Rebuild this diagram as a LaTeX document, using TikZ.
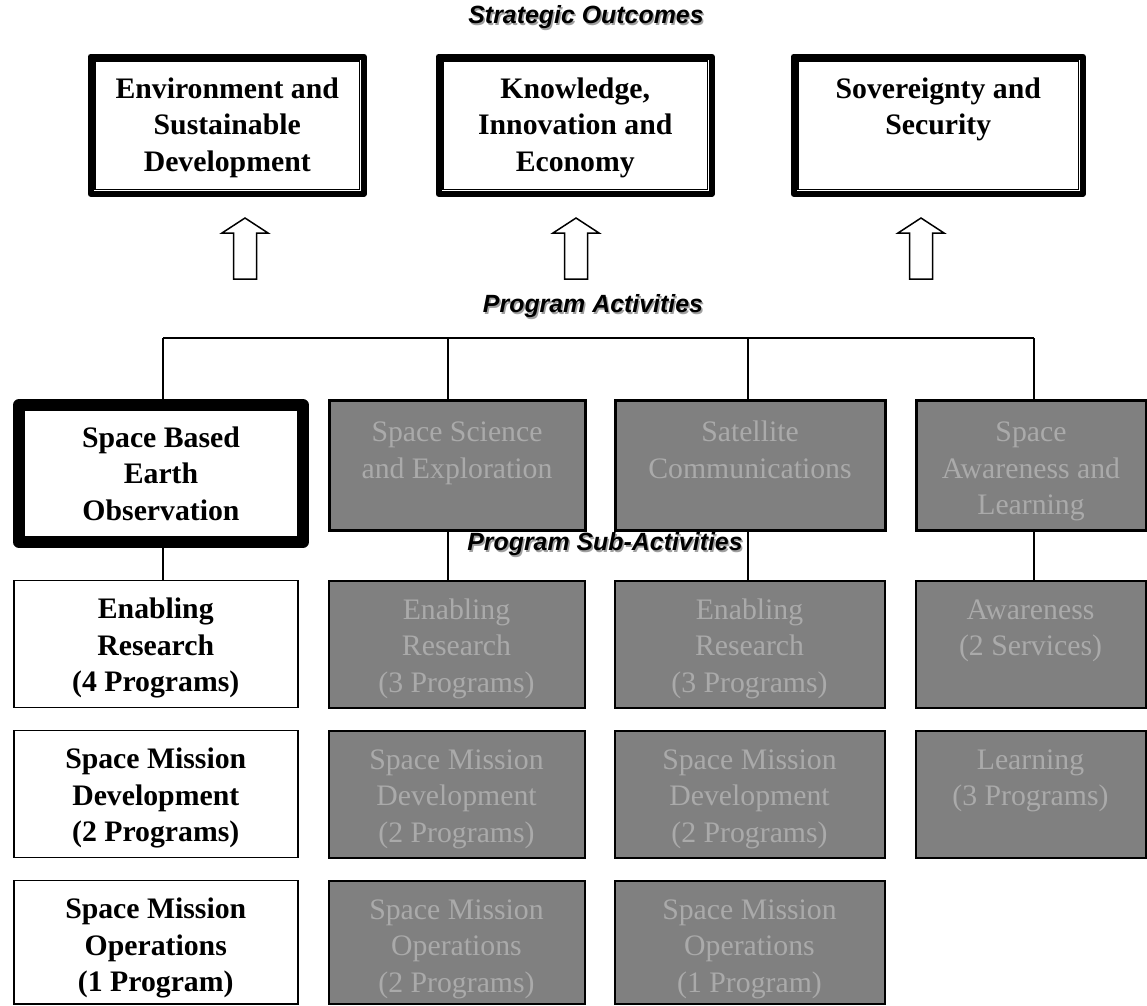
\documentclass[tikz,border=0pt]{standalone}
\usepackage{fontspec}
\setmainfont{Liberation Serif}
\newfontfamily\arialfont{Liberation Sans}
\usepackage{tikz}
\usetikzlibrary{calc}
\usepackage{xcolor}
\definecolor{boxgrey}{RGB}{128,128,128}
\definecolor{textgrey}{RGB}{170,170,170}
\definecolor{shadowgrey}{RGB}{160,160,160}
\newcommand{\boxfont}{\fontsize{29.75}{36.5}\selectfont}
\newcommand{\shadowed}[1]{\makebox[0pt][l]{\hspace{1.5pt}\raisebox{-1.5pt}{\textcolor{shadowgrey}{#1}}}#1}
\tikzstyle{heading}=[
  inner sep=0pt,font=\arialfont\bfseries\itshape\fontsize{24.9}{30}\selectfont
]
\tikzstyle{boxtext}=[
  anchor=north west,inner sep=0pt,align=flush center
]
\tikzstyle{outcome}=[
  boxtext,draw,line width=6.5pt,line join=round,text width=273pt,
  text height=41.5pt,text depth=95.5pt,font=\boxfont\bfseries
]
\tikzstyle{activity}=[
  boxtext,draw,line width=12pt,line join=round,text width=284pt,
  text height=42pt,text depth=95pt,font=\boxfont\bfseries
]
\tikzstyle{greyact}=[
  boxtext,draw,line width=3pt,fill=boxgrey,text=textgrey,
  text height=41.5pt,text depth=88.5pt,font=\boxfont
]
\tikzstyle{subact}=[
  boxtext,draw,line width=1.5pt,text width=284pt,
  text height=38.5pt,text depth=88.5pt,font=\boxfont\bfseries
]
\tikzstyle{greysub}=[
  boxtext,draw,line width=2pt,fill=boxgrey,text=textgrey,
  text height=38.5pt,text depth=88.5pt,font=\boxfont
]
\tikzstyle{wire}=[line width=2pt]
\tikzstyle{blockarrow}=[line width=1.5pt,fill=white,line join=miter]

\begin{document}
\begin{tikzpicture}[x=1pt,y=-1pt]
  \useasboundingbox (0,0) rectangle (1147,1005);

  % strategic outcomes
  \node[heading] (so) at (586,18) {\shadowed{Strategic Outcomes}};
  \node[outcome] (env) at (87.5,53.5) {Environment and\\Sustainable\\Development};
  \node[outcome] (kie) at (435.5,53.5) {Knowledge,\\Innovation and\\Economy};
  \node[outcome,text width=289pt] (sov) at (790.5,53.5) {Sovereignty and\\Security};
  \foreach \n in {env,kie,sov}
    \draw[line width=1.6pt] ($(\n.north west)+(7.5,7.5)$) rectangle ($(\n.south east)+(-7.5,-7.5)$);

  \foreach \c in {245,576,921}
    \draw[blockarrow] (\c-11.5,279) -- (\c-11.5,233) -- (\c-23,233) -- (\c,218)
      -- (\c+23,233) -- (\c+11.5,233) -- (\c+11.5,279) -- cycle;

  % program activities
  \node[heading] (pa) at (593,307) {\shadowed{Program Activities}};
  \node[activity] (sbeo) at (13,399) {Space Based\\Earth\\Observation};
  \node[greyact,text width=256pt] (sse) at (327.5,398.5) {Space Science\\and Exploration};
  \node[greyact,text width=270pt] (satcom) at (613.5,398.5) {Satellite\\Communications};
  \node[greyact,text width=230pt] (sal) at (914.5,398.5) {Space\\Awareness and\\Learning};

  % program sub-activities
  \node[heading] (psa) at (605,545) {\shadowed{Program Sub-Activities}};
  \node[subact] (er1) at (13,579.5) {Enabling\\Research\\(4 Programs)};
  \node[subact] (smd1) at (13,729.5) {Space Mission\\Development\\(2 Programs)};
  \node[subact,text depth=85pt] (smo1) at (13,879.5) {Space Mission\\Operations\\(1 Program)};
  \node[greysub,text width=256pt] (er2) at (327.5,579.5) {Enabling\\Research\\(3 Programs)};
  \node[greysub,text width=256pt] (smd2) at (327.5,729.5) {Space Mission\\Development\\(2 Programs)};
  \node[greysub,text width=256pt,text depth=85pt] (smo2) at (327.5,879.5) {Space Mission\\Operations\\(2 Programs)};
  \node[greysub,text width=270pt] (er3) at (613.5,579.5) {Enabling\\Research\\(3 Programs)};
  \node[greysub,text width=270pt] (smd3) at (613.5,729.5) {Space Mission\\Development\\(2 Programs)};
  \node[greysub,text width=270pt,text depth=85pt] (smo3) at (613.5,879.5) {Space Mission\\Operations\\(1 Program)};
  \node[greysub,text width=230pt] (aware) at (914.5,579.5) {Awareness\\(2 Services)};
  \node[greysub,text width=230pt] (learn) at (914.5,729.5) {Learning\\(3 Programs)};

  % connectors
  \coordinate (b1) at (163,338);
  \coordinate (b2) at (448,338);
  \coordinate (b3) at (748,338);
  \coordinate (b4) at (1034,338);
  \draw[wire] (b1) -- (b4);
  \draw[wire] (b1) -- (b1 |- sbeo.north);
  \draw[wire] (b2) -- (b2 |- sse.north);
  \draw[wire] (b3) -- (b3 |- satcom.north);
  \draw[wire] (b4) -- (b4 |- sal.north);
  \draw[wire] (sbeo.south -| b1) -- (b1 |- er1.north);
  \draw[wire] (sse.south -| b2) -- (b2 |- er2.north);
  \draw[wire] (satcom.south -| b3) -- (b3 |- er3.north);
  \draw[wire] (sal.south -| b4) -- (b4 |- aware.north);
\end{tikzpicture}
\end{document}
